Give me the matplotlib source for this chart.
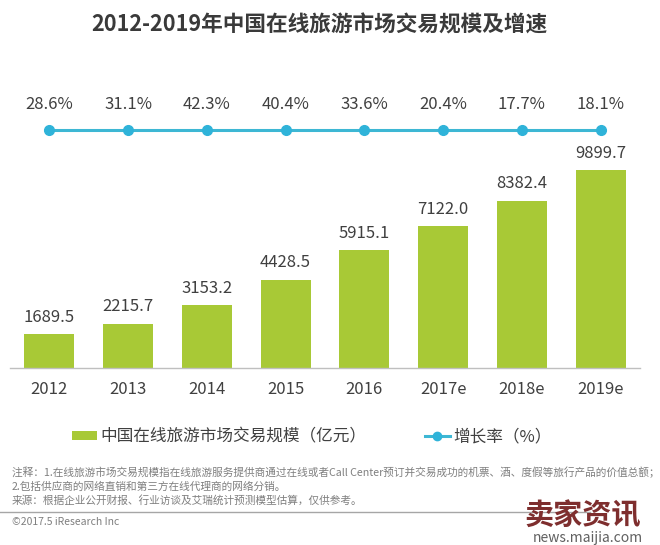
import matplotlib
matplotlib.use("Agg")
import matplotlib.pyplot as plt
from matplotlib.transforms import blended_transform_factory
from matplotlib.patches import Patch
from matplotlib.lines import Line2D

plt.rcParams['font.family'] = ['Noto Sans CJK SC', 'DejaVu Sans']

years = ['2012', '2013', '2014', '2015', '2016', '2017e', '2018e', '2019e']
scale = [1689.5, 2215.7, 3153.2, 4428.5, 5915.1, 7122.0, 8382.4, 9899.7]
growth = [28.6, 31.1, 42.3, 40.4, 33.6, 20.4, 17.7, 18.1]

title = '2012-2019年中国在线旅游市场交易规模及增速'
legend_bar = '中国在线旅游市场交易规模（亿元）'
legend_line = '增长率（%）'
notes = ['注释：1.在线旅游市场交易规模指在线旅游服务提供商通过在线或者Call Center预订并交易成功的机票、酒、度假等旅行产品的价值总额；',
         '2.包括供应商的网络直销和第三方在线代理商的网络分销。',
         '来源：根据企业公开财报、行业访谈及艾瑞统计预测模型估算，仅供参考。']
copyright_text = '©2017.5 iResearch Inc'

W, H = 660, 545
fig = plt.figure(figsize=(6.6, 5.45), dpi=100)

bar_color = '#A8C936'
line_color = '#3DB7D4'
text_color = '#404040'

# axes: left 10px, width 630px, baseline at 368px, top at 90px
ax = fig.add_axes([10 / W, (H - 368) / H, 630 / W, (368 - 90) / H])
px_per_unit = 197.5 / 9899.7
ax.set_xlim(-0.5, len(years) - 0.5)
ax.set_ylim(0, (368 - 90) / px_per_unit)
x = list(range(len(years)))
ax.bar(x, scale, width=0.635, color=bar_color, zorder=2)
for xi, v in zip(x, scale):
    ax.annotate(f'{v:.1f}', (xi, v), xytext=(0, 6), textcoords='offset points',
                ha='center', va='bottom', fontsize=12, color=text_color, fontweight='light')

# growth line drawn at a fixed level (as in reference)
trans = blended_transform_factory(ax.transData, ax.transAxes)
line_y = (368 - 130) / (368 - 90)
ax.plot(x, [line_y] * len(x), transform=trans, color=line_color, lw=2.2,
        marker='o', markersize=7, markerfacecolor='#2FB3D9', markeredgecolor='#2FB3D9', zorder=3, clip_on=False)
for xi, g in zip(x, growth):
    ax.text(xi, line_y + 25 / (368 - 90), f'{g:.1f}%', transform=trans, ha='center', va='center',
            fontsize=12, color=text_color, fontweight='light')

for s in ['top', 'right', 'left']:
    ax.spines[s].set_visible(False)
ax.spines['bottom'].set_color('#BFBFBF')
ax.spines['bottom'].set_linewidth(1)
ax.set_yticks([])
ax.set_xticks(x)
ax.set_xticklabels(years, fontsize=12, color=text_color, fontweight='light')
ax.tick_params(axis='x', length=0, pad=9)

fig.text(319 / W, 1 - 25 / H, title, ha='center', va='center', fontsize=15.6,
         fontweight='bold', color='#3A3A3A')

handles = [Patch(facecolor=bar_color, edgecolor='none'),
           Line2D([0], [0], color=line_color, lw=2.2, marker='o', markersize=6,
                  markerfacecolor='#2FB3D9', markeredgecolor='#2FB3D9')]
leg = fig.legend(handles, [legend_bar, legend_line], loc='center', ncol=2,
                 bbox_to_anchor=(312 / W, 1 - 437 / H), frameon=False,
                 prop={'size': 12, 'weight': 'light'}, handlelength=1.5, handleheight=0.45,
                 handletextpad=0.2, columnspacing=3.5)
for t in leg.get_texts():
    t.set_color(text_color)

note_y = [472, 487, 500]
for t, yy in zip(notes, note_y):
    fig.text(12 / W, 1 - yy / H, t, ha='left', va='center', fontsize=7.7, color='#7F7F7F')

fig.add_artist(Line2D([0, 590 / W], [1 - 512 / H, 1 - 512 / H], color='#A6A6A6', lw=1))
fig.text(12 / W, 1 - 522 / H, copyright_text, ha='left', va='center', fontsize=7.5, color='#7F7F7F')

# watermark
fig.text(583 / W, 1 - 515 / H, '卖家资讯', ha='center', va='center', fontsize=21,
         fontweight='bold', color='#7E2E2E')
fig.text(588 / W, 1 - 538 / H, 'news.maijia.com', ha='center', va='center', fontsize=10,
         color='#606060')

fig.savefig('out.png', dpi=100, facecolor='white')
